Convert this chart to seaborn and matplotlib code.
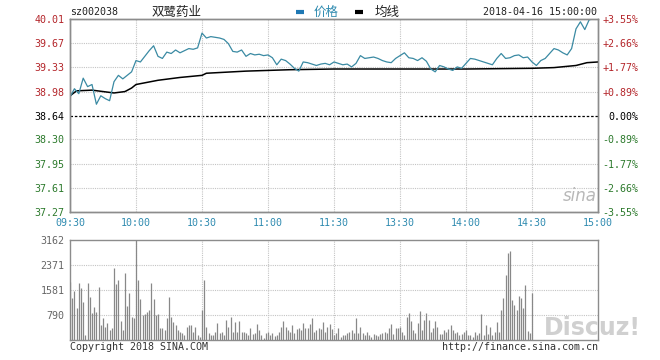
import numpy as np
import pandas as pd
import seaborn as sns
import matplotlib
matplotlib.use("Agg")
import matplotlib.pyplot as plt
from matplotlib.lines import Line2D

# ---------------- data ----------------
stock_code = "sz002038"
stock_name = "双鹭药业"
timestamp = "2018-04-16 15:00:00"
prev_close = 38.64

# price sampled every 2 minutes (minute index 0..240)
price_minutes = list(range(0, 241, 2))
price = [38.90, 39.02, 38.95, 39.17, 39.05, 39.08, 38.80, 38.92, 38.88, 38.85,
         39.12, 39.21, 39.16, 39.21, 39.26, 39.42, 39.40, 39.48, 39.56, 39.63,
         39.48, 39.45, 39.54, 39.52, 39.57, 39.53, 39.56, 39.59, 39.58, 39.60,
         39.81, 39.74, 39.76, 39.75, 39.74, 39.72, 39.66, 39.55, 39.54, 39.57,
         39.48, 39.52, 39.50, 39.51, 39.49, 39.50, 39.46, 39.36, 39.44, 39.42,
         39.37, 39.31, 39.27, 39.40, 39.39, 39.37, 39.35, 39.37, 39.38, 39.36,
         39.40, 39.38, 39.36, 39.37, 39.33, 39.38, 39.49, 39.45, 39.46, 39.47,
         39.45, 39.42, 39.40, 39.39, 39.45, 39.49, 39.53, 39.46, 39.45, 39.42,
         39.46, 39.41, 39.30, 39.26, 39.35, 39.33, 39.30, 39.28, 39.33, 39.31,
         39.38, 39.45, 39.44, 39.42, 39.40, 39.38, 39.36, 39.45, 39.52, 39.45,
         39.46, 39.49, 39.50, 39.46, 39.47, 39.40, 39.35, 39.42, 39.45, 39.52,
         39.59, 39.57, 39.53, 39.50, 39.59, 39.87, 39.97, 39.86, 40.00, 40.01,
         40.01]

avg_minutes = [0, 3, 10, 15, 20, 25, 28, 30, 35, 40, 50, 60, 62, 80, 100, 120,
               150, 180, 210, 220, 230, 235, 240]
avg_price = [38.92, 38.99, 39.00, 38.98, 38.96, 38.98, 39.03, 39.08, 39.11,
             39.14, 39.18, 39.21, 39.24, 39.27, 39.29, 39.30, 39.30, 39.30,
             39.31, 39.32, 39.35, 39.39, 39.40]

volume = [1845, 1318, 1550, 1022, 1813, 1634, 1212, 158, 1792, 1349,
          864, 1054, 896, 1686, 474, 685, 421, 527, 316, 369,
          2266, 1760, 1897, 601, 316, 2108, 1086, 1476, 738, 706,
          3162, 1897, 1286, 790, 812, 896, 949, 1813, 1286, 790,
          812, 369, 369, 316, 685, 1370, 738, 580, 474, 316,
          264, 211, 158, 421, 474, 474, 264, 421, 158, 105,
          949, 1897, 421, 211, 158, 158, 264, 527, 211, 264,
          158, 632, 421, 738, 264, 559, 264, 601, 264, 242,
          211, 158, 369, 179, 211, 495, 316, 158, 53, 211,
          242, 158, 211, 126, 158, 264, 421, 601, 421, 316,
          264, 474, 211, 348, 369, 316, 527, 369, 390, 495,
          685, 264, 316, 369, 348, 580, 264, 421, 495, 348,
          158,
          211, 369, 105, 158, 158, 211, 264, 316, 211, 685,
          211, 421, 211, 158, 264, 158, 105, 179, 158, 126,
          179, 211, 242, 211, 369, 495, 179, 390, 390, 421,
          264, 158, 738, 843, 601, 316, 211, 527, 917, 316,
          632, 864, 632, 264, 369, 601, 421, 179, 179, 316,
          264, 348, 474, 316, 211, 242, 158, 179, 264, 316,
          158, 158, 105, 264, 158, 211, 812, 158, 474, 179,
          421, 158, 264, 580, 264, 949, 1318, 2055, 2740, 2814,
          1265, 1107, 949, 1400, 1339, 1000, 1739, 300, 220, 1500]
vol_minutes = list(range(len(volume)))

price_ticks = [40.01, 39.67, 39.33, 38.98, 38.64, 38.30, 37.95, 37.61, 37.27]
pct_labels = ['+3.55%', '+2.66%', '+1.77%', '+0.89%', '0.00%',
              '-0.89%', '-1.77%', '-2.66%', '-3.55%']
time_ticks = [0, 30, 60, 90, 120, 150, 180, 210, 240]
time_labels = ['09:30', '10:00', '10:30', '11:00', '11:30',
               '13:30', '14:00', '14:30', '15:00']
vol_ticks = [3162, 2371, 1581, 790]

# ---------------- style ----------------
sns.set_theme(style="white")
plt.rcParams['font.family'] = ['DejaVu Sans Mono', 'Noto Sans CJK SC']

RED = '#b4262b'
GREEN = '#2c7a2c'
BLUE = '#2f8bb0'
LINE = '#3a8aa3'
GRID = '#c4c4c4'
FRAME = '#8c8c8c'

fig = plt.figure(figsize=(6.6, 3.6), dpi=100)
ax = fig.add_axes([70/660, 1-212/360, 528/660, 193/360])
axv = fig.add_axes([70/660, 1-340/360, 528/660, 100/360])

df_p = pd.DataFrame({'minute': price_minutes, 'price': price})
df_a = pd.DataFrame({'minute': avg_minutes, 'avg': avg_price})

# grid
for t in price_ticks:
    if abs(t - prev_close) < 1e-6:
        ax.axhline(t, color='black', lw=0.9, ls=(0, (2, 1.5)), zorder=1)
    else:
        ax.axhline(t, color=GRID, lw=0.8, ls=(0, (1, 1)), zorder=1)
for t in time_ticks[1:-1]:
    ax.axvline(t, color=GRID, lw=0.8, ls=(0, (1, 1)), zorder=1)

sns.lineplot(data=df_a, x='minute', y='avg', ax=ax, color='black', lw=1.1, zorder=3)
sns.lineplot(data=df_p, x='minute', y='price', ax=ax, color=LINE, lw=0.9, zorder=4)

ax.set_xlim(0, 240)
ax.set_ylim(37.27, 40.01)
ax.set_xlabel('')
ax.set_ylabel('')
ax.set_yticks(price_ticks)
ax.set_yticklabels([f'{t:.2f}' for t in price_ticks], fontsize=7.2)
for lbl, t in zip(ax.get_yticklabels(), price_ticks):
    if t > prev_close + 1e-6:
        lbl.set_color(RED)
    elif t < prev_close - 1e-6:
        lbl.set_color(GREEN)
    else:
        lbl.set_color('black')
ax.set_xticks(time_ticks)
ax.set_xticklabels(time_labels, fontsize=7.2, color=BLUE)
ax.tick_params(axis='both', length=0, pad=4)

ax2 = ax.twinx()
ax2.set_ylim(37.27, 40.01)
ax2.set_yticks(price_ticks)
ax2.set_yticklabels(pct_labels, fontsize=7.2, ha='right')
ax2.tick_params(axis='y', length=0, pad=29)
for lbl, t in zip(ax2.get_yticklabels(), price_ticks):
    if t > prev_close + 1e-6:
        lbl.set_color(RED)
    elif t < prev_close - 1e-6:
        lbl.set_color(GREEN)
    else:
        lbl.set_color('black')
ax2.grid(False)

for a in (ax, ax2):
    for s in a.spines.values():
        s.set_color(FRAME)
        s.set_linewidth(1.0)

# volume panel
for t in vol_ticks[1:]:
    axv.axhline(t, color=GRID, lw=0.8, ls=(0, (1, 1)), zorder=1)
for t in time_ticks[1:-1]:
    axv.axvline(t, color=GRID, lw=0.8, ls=(0, (1, 1)), zorder=1)
axv.vlines(vol_minutes, 0, volume, color='#888888', lw=0.9, zorder=3)
axv.set_xlim(0, 240)
axv.set_ylim(0, 3162)
axv.set_yticks(vol_ticks)
axv.set_yticklabels([str(v) for v in vol_ticks], fontsize=7.2, color='#666666')
axv.set_xticks([])
axv.tick_params(axis='y', length=0, pad=4)
for s in axv.spines.values():
    s.set_color(FRAME)
    s.set_linewidth(1.0)

# header texts
fig.text(70/660, 1-12/360, stock_code, fontsize=7.2, color='#222222',
         va='center', ha='left')
fig.text(177/660, 1-12/360, stock_name, fontsize=9, color='#222222',
         va='center', ha='center', family=['Noto Sans CJK SC', 'DejaVu Sans'])
fig.add_artist(Line2D([296/660, 304/660], [1-12/360, 1-12/360],
                      color='#1f78b4', lw=3, solid_capstyle='butt'))
fig.text(314/660, 1-12/360, '价格', fontsize=9, color=BLUE, va='center',
         ha='left', family=['Noto Sans CJK SC', 'DejaVu Sans'])
fig.add_artist(Line2D([355/660, 363/660], [1-12/360, 1-12/360],
                      color='black', lw=3, solid_capstyle='butt'))
fig.text(375/660, 1-12/360, '均线', fontsize=9, color='#222222', va='center',
         ha='left', family=['Noto Sans CJK SC', 'DejaVu Sans'])
fig.text(597/660, 1-12/360, timestamp, fontsize=7.2, color='#222222',
         va='center', ha='right')

# footer texts
fig.text(70/660, 1-347/360, 'Copyright 2018 SINA.COM', fontsize=7.2,
         color='#333333', va='center', ha='left')
fig.text(598/660, 1-347/360, 'http://finance.sina.com.cn', fontsize=7.2,
         color='#333333', va='center', ha='right')

# watermarks
fig.text(580/660, 1-196/360, 'sina', fontsize=12, color='#b8b8b8',
         style='italic', va='center', ha='center', family='DejaVu Sans')
fig.text(592/660, 1-328/360, 'Discuz!', fontsize=17, color='#c8c8c8',
         fontweight='bold', va='center', ha='center', family='DejaVu Sans',
         alpha=0.85)

fig.savefig('out.png', dpi=100)
